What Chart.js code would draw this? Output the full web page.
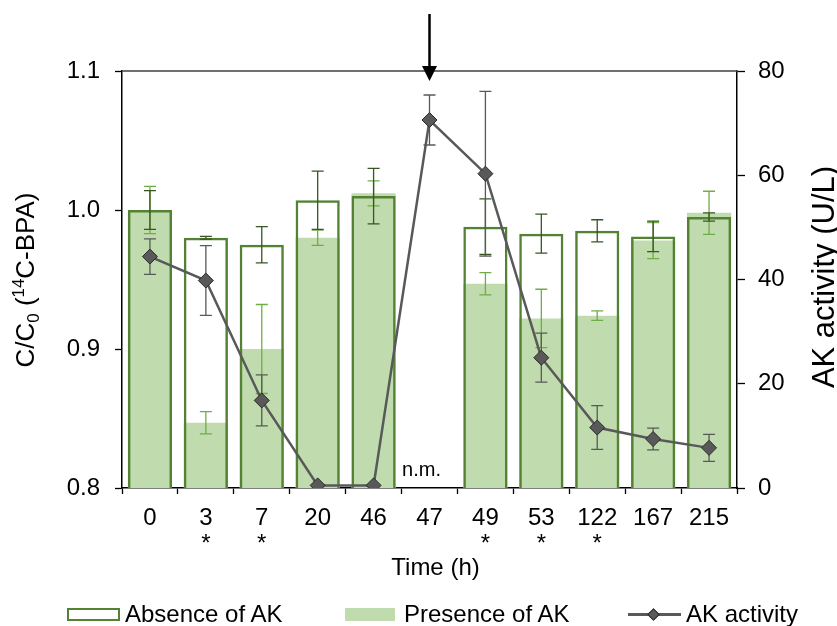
<!DOCTYPE html>
<html><head><meta charset="utf-8">
<script src="https://cdn.jsdelivr.net/npm/chart.js@4.4.0/dist/chart.umd.min.js"></script>
<style>
html,body{margin:0;padding:0;background:#fff;}
#wrap{position:relative;width:837px;height:626px;font-family:"Liberation Sans",Arial,sans-serif;overflow:hidden;}
#c{position:absolute;left:0;top:0;}
.lt{position:absolute;top:600px;font-size:24px;line-height:28px;color:#000;white-space:nowrap;}
.lb{position:absolute;box-sizing:border-box;}
</style></head><body>
<div id="wrap"><canvas id="c" width="837" height="626"></canvas>
<div class="lb" style="left:67px;top:608px;width:53px;height:13px;border:2.5px solid #548235;background:#fff;"></div>
<div class="lt" style="left:125px;">Absence of AK</div>
<div class="lb" style="left:345px;top:608px;width:50px;height:13px;background:#c0dbad;"></div>
<div class="lt" style="left:404px;">Presence of AK</div>
<div class="lb" style="left:628px;top:613px;width:53px;height:2.5px;background:#595959;"></div>
<div class="lb" style="left:648.5px;top:609.5px;width:9px;height:9px;background:#595959;border:1px solid #2b2b2b;transform:rotate(45deg);"></div>
<div class="lt" style="left:686px;">AK activity</div>
</div>
<script>
// ---- data ----
const categories = ['0','3','7','20','46','47','49','53','122','167','215'];
const significant = [false,true,true,false,false,false,true,true,true,false,false];
const absenceAK   = [1.000,0.980,0.975,1.007,1.010,null,0.988,0.983,0.985,0.981,0.995];
const absenceErr  = [0.014,0.001,0.013,0.021,0.020,null,0.020,0.014,0.008,0.011,0.003];
const presenceAK  = [1.000,0.847,0.900,0.980,1.012,null,0.947,0.922,0.924,0.978,0.998];
const presenceErr = [0.017,0.008,0.032,0.0055,0.009,null,0.008,0.021,0.0034,0.013,0.0155];
const akActivity  = [44.4,39.8,16.8,0.5,0.5,70.6,60.3,25.0,11.6,9.4,7.7];
const akErr       = [3.4,6.7,4.9,0,0,4.8,15.8,4.7,4.2,2.1,2.6];
const leftTicks = [0.8,0.9,1.0,1.1];
const rightTicks = [0,20,40,60,80];

const FONT = '"Liberation Sans", Arial, sans-serif';
Chart.defaults.font.family = FONT;
Chart.defaults.color = '#000';

function drawErrors(chart, dsIndex) {
  const ds = chart.data.datasets[dsIndex];
  const meta = chart.getDatasetMeta(dsIndex);
  const ys = chart.scales[ds.yAxisID];
  const ctx = chart.ctx;
  ctx.save();
  ctx.strokeStyle = ds.errColor;
  ctx.lineWidth = ds.errWidth;
  const cap = ds.errCap;
  ds.data.forEach((v, i) => {
    const e = ds.errors[i];
    if (v == null || !e) return;
    const x = meta.data[i].x;
    const y1 = ys.getPixelForValue(v + e), y2 = ys.getPixelForValue(v - e);
    ctx.beginPath();
    ctx.moveTo(x, y1); ctx.lineTo(x, y2);
    ctx.moveTo(x - cap/2, y1); ctx.lineTo(x + cap/2, y1);
    ctx.moveTo(x - cap/2, y2); ctx.lineTo(x + cap/2, y2);
    ctx.stroke();
  });
  ctx.restore();
}

const errorPlugin = {
  id: 'errorBars',
  beforeDatasetDraw(chart, args) {
    const ds = chart.data.datasets[args.index];
    if (ds.type === 'line') drawErrors(chart, args.index);
  },
  afterDatasetDraw(chart, args) {
    const ds = chart.data.datasets[args.index];
    if (ds.type !== 'line') drawErrors(chart, args.index);
  }
};

function drawRuns(ctx, runs, x, y, size, rotate) {
  ctx.save();
  ctx.translate(x, y);
  if (rotate) ctx.rotate(-Math.PI/2);
  ctx.fillStyle = '#000';
  ctx.textBaseline = 'alphabetic';
  ctx.textAlign = 'left';
  let total = 0;
  runs.forEach(r => { ctx.font = (size*r.s) + 'px ' + FONT; r.w = ctx.measureText(r.t).width; total += r.w; });
  let pos = -total/2;
  runs.forEach(r => { ctx.font = (size*r.s) + 'px ' + FONT; ctx.fillText(r.t, pos, r.dy*size); pos += r.w; });
  ctx.restore();
}

const decorPlugin = {
  id: 'decor',
  afterDraw(chart) {
    const ctx = chart.ctx, a = chart.chartArea, xs = chart.scales.x, ys = chart.scales.y;
    // top frame line
    ctx.save();
    ctx.strokeStyle = '#404040'; ctx.lineWidth = 1.3;
    ctx.beginPath(); ctx.moveTo(a.left, a.top); ctx.lineTo(a.right, a.top); ctx.stroke();
    // arrow at 47 h
    const ax = xs.getPixelForValue(5);
    ctx.strokeStyle = '#000'; ctx.fillStyle = '#000'; ctx.lineWidth = 2.5;
    ctx.beginPath(); ctx.moveTo(ax, 14); ctx.lineTo(ax, 70); ctx.stroke();
    ctx.beginPath(); ctx.moveTo(ax - 7.5, 66); ctx.lineTo(ax + 7.5, 66); ctx.lineTo(ax, 81); ctx.closePath(); ctx.fill();
    // n.m.
    ctx.font = '20px ' + FONT; ctx.textAlign = 'center'; ctx.textBaseline = 'alphabetic';
    ctx.fillText('n.m.', ax - 8, ys.getPixelForValue(0.8) - 12);
    // x title
    ctx.font = '24px ' + FONT; ctx.textBaseline = 'middle';
    ctx.fillText('Time (h)', (a.left + a.right)/2 + 6, 568);
    ctx.restore();
    // y titles
    drawRuns(ctx, [{t:'C/C',s:1,dy:0},{t:'0',s:0.65,dy:0.2},{t:' (',s:1,dy:0},{t:'14',s:0.65,dy:-0.38},{t:'C-BPA)',s:1,dy:0}], 34, 280, 26, true);
    drawRuns(ctx, [{t:'AK activity (U/L)',s:1,dy:0}], 834, 277, 31, true);
  }
};

new Chart(document.getElementById('c'), {
  type: 'bar',
  data: {
    labels: categories,
    datasets: [
      { type:'line', label:'AK activity', data: akActivity, errors: akErr, yAxisID:'y1', order:1,
        borderColor:'#595959', borderWidth:2.5, tension:0, pointStyle:'rectRot', pointRadius:7.5,
        pointBackgroundColor:'#595959', pointBorderColor:'#2b2b2b', pointBorderWidth:1,
        errColor:'#595959', errWidth:1.3, errCap:12 },
      { label:'Absence of AK', data: absenceAK, errors: absenceErr, yAxisID:'y', order:2, grouped:false,
        backgroundColor:'rgba(0,0,0,0)', borderColor:'#548235', borderWidth:2.5, borderSkipped:false,
        categoryPercentage:1, barPercentage:0.79, errColor:'#375623', errWidth:1.3, errCap:12 },
      { label:'Presence of AK', data: presenceAK, errors: presenceErr, yAxisID:'y', order:3, grouped:false,
        backgroundColor:'#c0dbad', borderWidth:0,
        categoryPercentage:1, barPercentage:0.79, errColor:'#70ad47', errWidth:1.3, errCap:12 }
    ]
  },
  options: {
    responsive:false, animation:false, devicePixelRatio:1,
    layout:{ padding:{ top:71, left:0, right:0, bottom:0 } },
    plugins:{ legend:{display:false}, tooltip:{enabled:false} },
    scales:{
      x:{
        afterFit(s){ s.height = 138; },
        grid:{ offset:true, drawOnChartArea:false, tickLength:6, tickColor:'#000', tickWidth:1.3 },
        border:{ color:'#000', width:1.5 },
        ticks:{ font:{size:24, lineHeight:1.08}, padding:11, maxRotation:0, autoSkip:false,
          callback(v, i){ return significant[i] ? [categories[i], '*'] : categories[i]; } }
      },
      y:{
        position:'left', min:0.8, max:1.1,
        afterFit(s){ s.width = 122; },
        afterBuildTicks(s){ s.ticks = leftTicks.map(v => ({value:v})); },
        grid:{ drawOnChartArea:false, tickLength:7, tickColor:'#000', tickWidth:1.3 },
        border:{ color:'#000', width:1.5 },
        ticks:{ font:{size:24}, padding:15, callback(v){ return Number(v).toFixed(1); } }
      },
      y1:{
        position:'right', min:0, max:80,
        afterFit(s){ s.width = 100; },
        afterBuildTicks(s){ s.ticks = rightTicks.map(v => ({value:v})); },
        grid:{ drawOnChartArea:false, tickLength:8, tickColor:'#000', tickWidth:1.3 },
        border:{ color:'#000', width:1.5 },
        ticks:{ font:{size:24}, padding:13, callback(v){ return String(v); } }
      }
    }
  },
  plugins:[errorPlugin, decorPlugin]
});
</script>
</body></html>
